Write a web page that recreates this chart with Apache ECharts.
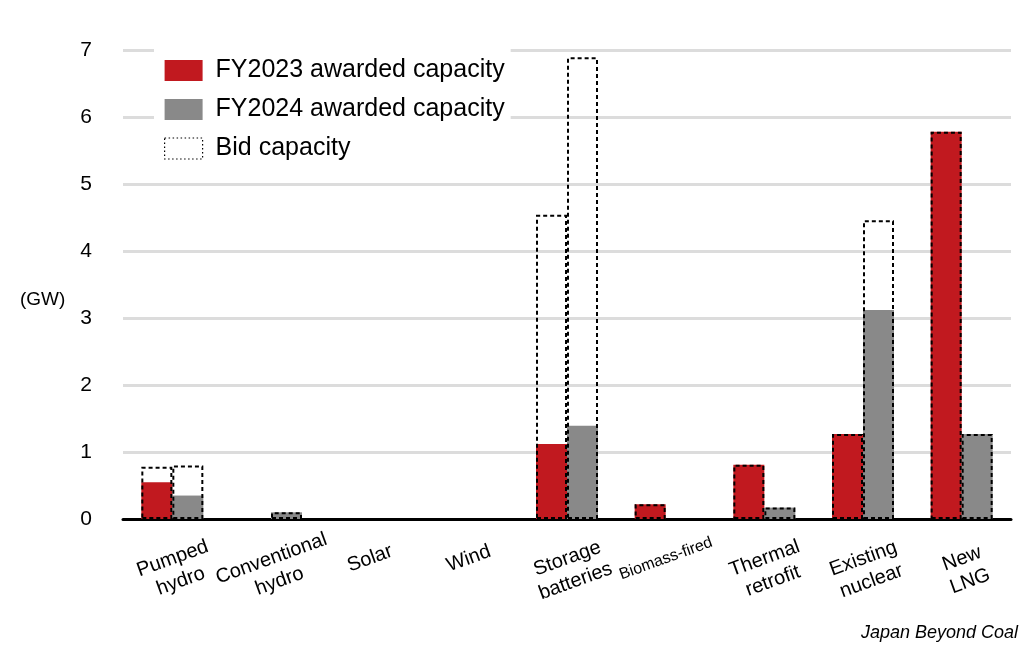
<!DOCTYPE html>
<html>
<head>
<meta charset="utf-8">
<script src="https://cdn.jsdelivr.net/npm/echarts@6/dist/echarts.min.js"></script>
<style>
  html, body { margin: 0; padding: 0; background: #fff; }
  #main { width: 1034px; height: 654px; }
</style>
</head>
<body>
<div id="main"></div>
<script>
// categorias e valores (GW)
const categorias = ['Pumped\nhydro', 'Conventional\nhydro', 'Solar', 'Wind', 'Storage\nbatteries',
  '{small|Biomass-fired}', 'Thermal\nretrofit', 'Existing\nnuclear', 'New\nLNG'];
const awarded2023 = [0.55, 0, 0, 0, 1.12, 0.22, 0.81, 1.27, 5.78];
const awarded2024 = [0.35, 0.10, 0, 0, 1.39, 0, 0.17, 3.12, 1.27];
const bid2023 = [0.78, 0, 0, 0, 4.54, 0.22, 0.81, 1.27, 5.78];
const bid2024 = [0.80, 0.10, 0, 0, 6.89, 0, 0.17, 4.46, 1.27];
const ticksY = [0, 1, 2, 3, 4, 5, 6, 7];

const vermelho = '#c1191f';
const cinza = '#898989';
const fonte = 'Liberation Sans, Arial, sans-serif';

function semZero(arr) {
  return arr.map(v => (v > 0 ? v : '-'));
}

var chartDom = document.getElementById('main');
var myChart = echarts.init(chartDom);

var option = {
  animation: false,
  textStyle: { fontFamily: fonte },
  grid: { left: 123, right: 23, top: 50, bottom: 135 },
  legend: {
    left: 154,
    top: 46,
    orient: 'vertical',
    icon: 'rect',
    itemWidth: 38,
    itemHeight: 21,
    itemGap: 14,
    backgroundColor: '#fff',
    padding: [12, 6, 6, 10],
    textStyle: { fontSize: 25, color: '#000', fontFamily: fonte, padding: [0, 0, 0, 8] },
    data: [
      { name: 'FY2023 awarded capacity', itemStyle: { color: vermelho, borderWidth: 0 } },
      { name: 'FY2024 awarded capacity', itemStyle: { color: cinza, borderWidth: 0 } },
      { name: 'Bid capacity', itemStyle: { color: 'rgba(0,0,0,0)', borderColor: '#000', borderWidth: 1.2, borderType: [1.5, 2.5] } }
    ]
  },
  xAxis: [
    {
      type: 'category',
      data: categorias,
      axisLine: { lineStyle: { color: '#000', width: 3 } },
      axisTick: { show: false },
      axisLabel: {
        interval: 0,
        rotate: 20,
        align: 'center',
        verticalAlign: 'top',
        margin: 27,
        fontSize: 20,
        lineHeight: 24,
        color: '#000',
        fontFamily: fonte,
        padding: [0, 8, 0, 0],
        rich: { small: { fontSize: 16, fontFamily: fonte, color: '#000' } }
      }
    },
    {
      type: 'category',
      data: categorias,
      show: false
    }
  ],
  yAxis: {
    type: 'value',
    min: 0,
    max: 7,
    interval: 1,
    axisLine: { show: false },
    axisTick: { show: false },
    axisLabel: {
      fontSize: 21,
      color: '#000',
      margin: 31,
      fontFamily: fonte,
      formatter: v => (ticksY.indexOf(v) >= 0 ? String(v) : '')
    },
    splitLine: { lineStyle: { color: '#dcdcdc', width: 3 } }
  },
  series: [
    {
      name: 'FY2023 awarded capacity',
      type: 'bar',
      data: semZero(awarded2023),
      barWidth: 31,
      barGap: '0%',
      itemStyle: { color: vermelho },
      z: 2
    },
    {
      name: 'FY2024 awarded capacity',
      type: 'bar',
      data: semZero(awarded2024),
      barWidth: 31,
      barGap: '0%',
      itemStyle: { color: cinza },
      z: 2
    },
    {
      name: 'Bid capacity',
      type: 'bar',
      xAxisIndex: 1,
      data: semZero(bid2023),
      barWidth: 31,
      barGap: '0%',
      itemStyle: { color: 'rgba(0,0,0,0)', borderColor: '#000', borderWidth: 2, borderType: [4, 3] },
      z: 3
    },
    {
      name: 'Bid capacity',
      type: 'bar',
      xAxisIndex: 1,
      data: semZero(bid2024),
      barWidth: 31,
      barGap: '0%',
      itemStyle: { color: 'rgba(0,0,0,0)', borderColor: '#000', borderWidth: 2, borderType: [4, 3] },
      z: 3
    }
  ],
  graphic: [
    {
      type: 'text',
      left: 20,
      top: 290,
      style: { text: '(GW)', font: '19px ' + fonte, fill: '#000' }
    },
    {
      type: 'text',
      right: 16,
      top: 624,
      style: {
        text: 'Japan Beyond Coal',
        font: 'italic 18px ' + fonte,
        fill: '#000'
      }
    }
  ]
};

option && myChart.setOption(option);
</script>
</body>
</html>
